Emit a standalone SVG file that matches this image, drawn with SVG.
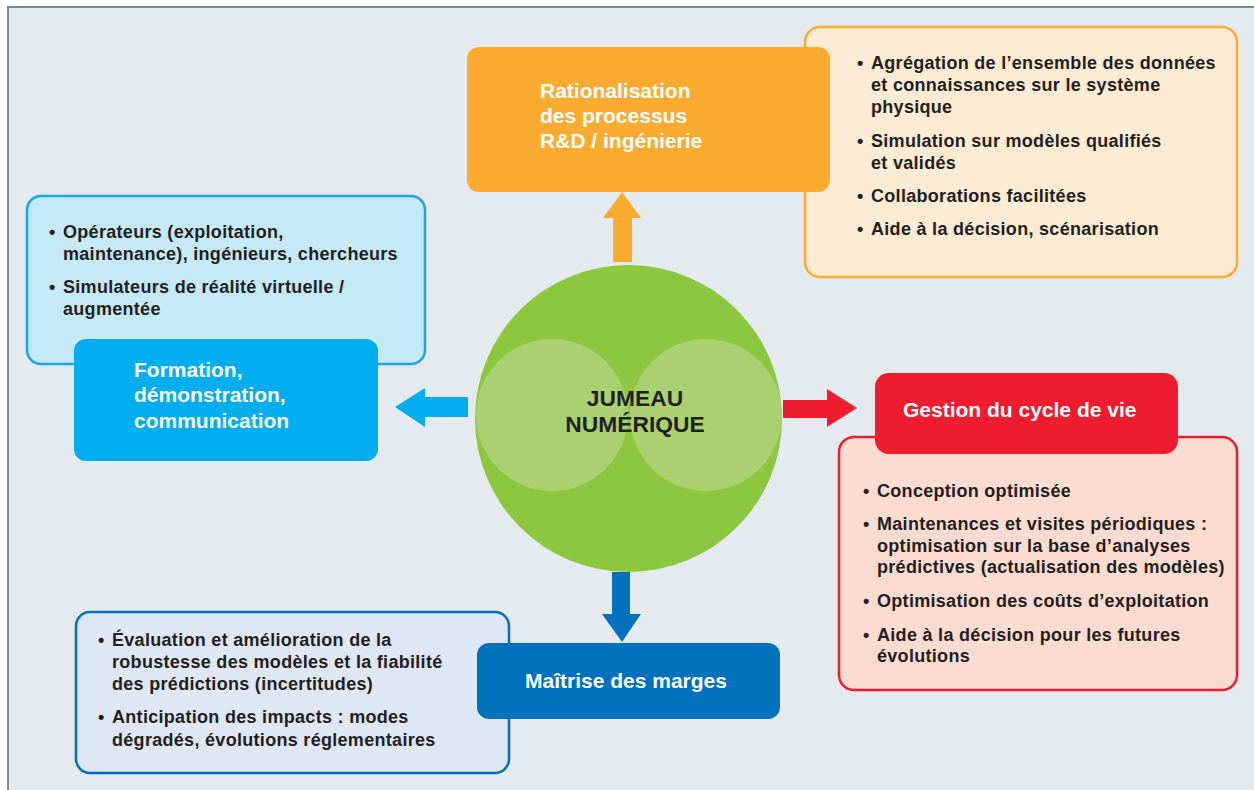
<svg xmlns="http://www.w3.org/2000/svg" width="1254" height="790" viewBox="0 0 1254 790">
<style>
.t{font-family:"Liberation Sans",Arial,sans-serif;font-weight:bold}
.w{fill:#ffffff;font-size:21px}
.d{fill:#231f20;font-size:18px;letter-spacing:0.3px}
.c{fill:#231f20;font-size:22.8px;text-anchor:middle}
</style>
<rect x="0" y="0" width="1254" height="790" fill="#ffffff"/>
<rect x="8" y="7" width="1260" height="800" fill="#e5eaef" stroke="#7f898f" stroke-width="2"/>
<g id="connectors">
<polygon fill="#faab30" points="613,262 613,218 603,218 622,192 641,218 632,218 632,262"/>
<polygon fill="#00aeef" points="468,397 425,397 425,388 395,407 425,427 425,417 468,417"/>
<polygon fill="#ed1c2e" points="783,400 827,400 827,389 857,408 827,427 827,418 783,418"/>
<polygon fill="#0071bc" points="612,572 630,572 630,614 641,614 622,642 602,614 612,614"/>
</g>
<g id="center">
<circle cx="628.5" cy="418.5" r="153.5" fill="#8dc63f"/>
<circle cx="552" cy="415" r="76" fill="#a9d172"/>
<circle cx="706" cy="415" r="76" fill="#a9d172"/>
<text class="t c" x="635" y="406">JUMEAU</text>
<text class="t c" x="635" y="432">NUMÉRIQUE</text>
</g>
<g id="rd-details">
<rect x="805" y="27" width="432" height="250" rx="15" fill="#fdebd4" stroke="#faab30" stroke-width="2.5"/>
<text class="t d"><tspan x="857" y="69">•</tspan><tspan x="871" y="69">Agrégation de l’ensemble des données</tspan><tspan x="871" y="91">et connaissances sur le système</tspan><tspan x="871" y="113">physique</tspan><tspan x="857" y="147">•</tspan><tspan x="871" y="147">Simulation sur modèles qualifiés</tspan><tspan x="871" y="169">et validés</tspan><tspan x="857" y="202">•</tspan><tspan x="871" y="202">Collaborations facilitées</tspan><tspan x="857" y="235">•</tspan><tspan x="871" y="235">Aide à la décision, scénarisation</tspan></text>
</g>
<g id="rd">
<rect x="467" y="47" width="363" height="145" rx="12" fill="#faab30"/>
<text class="t w"><tspan x="540" y="98">Rationalisation</tspan><tspan x="540" y="123">des processus</tspan><tspan x="540" y="148">R&amp;D / ingénierie</tspan></text>
</g>
<g id="formation-details">
<rect x="27" y="196" width="398" height="168" rx="14" fill="#c6e9f8" stroke="#1ca7e0" stroke-width="2.5"/>
<text class="t d"><tspan x="49" y="238">•</tspan><tspan x="63" y="238">Opérateurs (exploitation,</tspan><tspan x="63" y="260">maintenance), ingénieurs, chercheurs</tspan><tspan x="49" y="293">•</tspan><tspan x="63" y="293">Simulateurs de réalité virtuelle /</tspan><tspan x="63" y="315">augmentée</tspan></text>
</g>
<g id="formation">
<rect x="74" y="339" width="304" height="122" rx="12" fill="#00aeef"/>
<text class="t w"><tspan x="134" y="377">Formation,</tspan><tspan x="134" y="402">démonstration,</tspan><tspan x="134" y="428">communication</tspan></text>
</g>
<g id="cycle-details">
<rect x="839" y="437" width="398" height="253" rx="15" fill="#fcdcd1" stroke="#ed1c2e" stroke-width="2.5"/>
<text class="t d"><tspan x="863" y="497">•</tspan><tspan x="877" y="497">Conception optimisée</tspan><tspan x="863" y="530">•</tspan><tspan x="877" y="530">Maintenances et visites périodiques :</tspan><tspan x="877" y="552">optimisation sur la base d’analyses</tspan><tspan x="877" y="573">prédictives (actualisation des modèles)</tspan><tspan x="863" y="607">•</tspan><tspan x="877" y="607">Optimisation des coûts d’exploitation</tspan><tspan x="863" y="641">•</tspan><tspan x="877" y="641">Aide à la décision pour les futures</tspan><tspan x="877" y="662">évolutions</tspan></text>
</g>
<g id="cycle">
<rect x="875" y="373" width="303" height="81" rx="14" fill="#ed1c2e"/>
<text class="t w" x="903" y="417">Gestion du cycle de vie</text>
</g>
<g id="marges-details">
<rect x="76" y="612" width="433" height="161" rx="14" fill="#dfe7f4" stroke="#0071bc" stroke-width="2.5"/>
<text class="t d"><tspan x="98" y="646">•</tspan><tspan x="112" y="646">Évaluation et amélioration de la</tspan><tspan x="112" y="668">robustesse des modèles et la fiabilité</tspan><tspan x="112" y="690">des prédictions (incertitudes)</tspan><tspan x="98" y="723">•</tspan><tspan x="112" y="723">Anticipation des impacts : modes</tspan><tspan x="112" y="746">dégradés, évolutions réglementaires</tspan></text>
</g>
<g id="marges">
<rect x="477" y="643" width="303" height="76" rx="12" fill="#0071bc"/>
<text class="t w" x="626" y="688" text-anchor="middle">Maîtrise des marges</text>
</g>
</svg>
